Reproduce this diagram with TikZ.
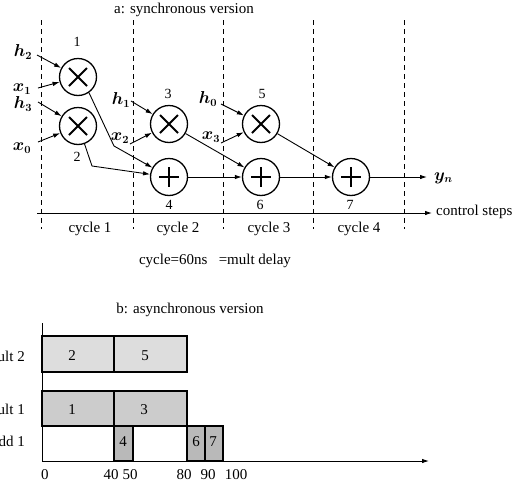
\documentclass[tikz,border=0pt]{standalone}
\usepackage{fontspec}
\setmainfont{Liberation Serif}
\usetikzlibrary{arrows.meta}
\begin{document}
\begin{tikzpicture}[x=1pt,y=-1pt,
  op/.style={circle,draw,line width=1.3pt,minimum size=37pt,inner sep=0pt},
  dsh/.style={line width=0.9pt,dash pattern=on 5pt off 4pt},
  arr/.style={-{Latex[length=7pt,width=4.5pt]},line width=0.9pt},
  txt/.style={font=\fontsize{15}{17}\selectfont,inner sep=0pt},
  num/.style={font=\fontsize{14}{16}\selectfont,inner sep=0pt},
  mth/.style={font=\fontsize{16}{18}\selectfont\boldmath,inner sep=0pt},
  blk/.style={draw,line width=1.2pt},
  lt/.style={blk,fill=gray!27},
  md/.style={blk,fill=gray!40},
  dk/.style={blk,fill=gray!55}]
\useasboundingbox (0,0) rectangle (523,485);
% ---------- part a ----------
\node[txt] (ta) at (184,10) {a: synchronous version};
\foreach \x/\n in {41/d1,133/d2,223/d3,313/d4,404/d5}{
  \coordinate (\n t) at (\x,20);
  \coordinate (\n b) at (\x,229);
  \draw[dsh] (\n t) -- (\n b);
}
\node[op] (m1) at (78,77) {};
\node[op] (m2) at (78,126) {};
\node[op] (m3) at (169,124) {};
\node[op] (m5) at (261,124) {};
\node[op] (a4) at (169,177) {};
\node[op] (a6) at (261,177) {};
\node[op] (a7) at (351,177) {};
\foreach \n in {m1,m2,m3,m5}
  \draw[line width=2pt] (\n.center) ++(-9,-9) -- ++(18,18) (\n.center) ++(-9,9) -- ++(18,-18);
\foreach \n in {a4,a6,a7}
  \draw[line width=2pt] (\n.center) ++(-10,0) -- ++(20,0) (\n.center) ++(0,-10) -- ++(0,20);
\node[num] (l1) at (77,42) {1};
\node[num] (l2) at (77,157) {2};
\node[num] (l3) at (168,94) {3};
\node[num] (l5) at (262,94) {5};
\node[num] (l4) at (169,205) {4};
\node[num] (l6) at (260,205) {6};
\node[num] (l7) at (350,205) {7};
% inputs
\node[mth] (h2) at (23,52) {$h_2$};
\node[mth] (x1) at (22,89) {$x_1$};
\node[mth] (h3) at (23,104) {$h_3$};
\node[mth] (x0) at (22,148) {$x_0$};
\node[mth] (h1) at (121,100) {$h_1$};
\node[mth] (x2) at (120,138) {$x_2$};
\node[mth] (h0) at (208,99) {$h_0$};
\node[mth] (x3) at (211,137) {$x_3$};
\coordinate (sh2) at (37,55);
\coordinate (sx1) at (38,88);
\coordinate (sh3) at (38,102);
\coordinate (sx0) at (38,142);
\coordinate (sh1) at (131,101);
\coordinate (sx2) at (130,144);
\coordinate (sh0) at (221,104);
\coordinate (sx3) at (221,143);
\draw[arr] (sh2) -- (m1);
\draw[arr] (sx1) -- (m1);
\draw[arr] (sh3) -- (m2);
\draw[arr] (sx0) -- (m2);
\draw[arr] (sh1) -- (m3);
\draw[arr] (sx2) -- (m3);
\draw[arr] (sh0) -- (m5);
\draw[arr] (sx3) -- (m5);
% internal connectors
\coordinate (b1) at (114,146);
\coordinate (b2) at (92,166);
\draw[arr] (m1.-55) -- (b1) -- (a4);
\draw[arr] (m2.-70) -- (b2) -- (a4);
\draw[arr] (m3) -- (a6);
\draw[arr] (a4) -- (a6);
\draw[arr] (m5) -- (a7);
\draw[arr] (a6) -- (a7);
\coordinate (yend) at (427,177);
\draw[arr] (a7) -- (yend);
\node[mth,anchor=west] (yn) at (434,178) {$y_n$};
% control steps axis
\coordinate (cs0) at (37,213);
\coordinate (cs1) at (432,213);
\draw[arr] (cs0) -- (cs1);
\node[txt,anchor=west] (cst) at (436,212) {control steps};
\node[txt] (c1) at (90,229) {cycle 1};
\node[txt] (c2) at (178,229) {cycle 2};
\node[txt] (c3) at (269,229) {cycle 3};
\node[txt] (c4) at (359,229) {cycle 4};
\node[txt] (cyc) at (215,261) {cycle=60ns\ \ \ =mult delay};
% ---------- part b ----------
\node[txt] (tb) at (190,310) {b: asynchronous version};
\coordinate (o) at (42,461);
\coordinate (ytop) at (42,323);
\coordinate (xend) at (429,461);
% mult 2 row
\draw[lt] (42,336) rectangle (114,372);
\draw[lt] (114,336) rectangle (187,372);
% mult 1 row
\draw[md] (42,391) rectangle (114,426);
\draw[md] (114,391) rectangle (187,426);
% add row
\draw[blk] (42,426) -- (114,426);
\draw[dk] (114,426) rectangle (133,461);
\draw[dk] (187,426) rectangle (205,461);
\draw[dk] (205,426) rectangle (223,461);
\draw[line width=1pt] (ytop) -- (o);
\draw[arr] (o) -- (xend);
\node[txt] (g2) at (72,356) {2};
\node[txt] (g5) at (145,356) {5};
\node[txt] (g1) at (72,410) {1};
\node[txt] (g3) at (144,410) {3};
\node[txt] (g4) at (123,442) {4};
\node[txt] (g6) at (196,442) {6};
\node[txt] (g7) at (213,442) {7};
\node[txt,anchor=east] (r2) at (25,356) {mult 2};
\node[txt,anchor=east] (r1) at (25,409) {mult 1};
\node[txt,anchor=east] (r0) at (25,441) {add 1};
\node[txt] (t0) at (45,475) {0};
\node[txt] (t40) at (111,475) {40};
\node[txt] (t50) at (130,475) {50};
\node[txt] (t80) at (184,475) {80};
\node[txt] (t90) at (208,475) {90};
\node[txt] (t100) at (236,475) {100};
\end{tikzpicture}
\end{document}
